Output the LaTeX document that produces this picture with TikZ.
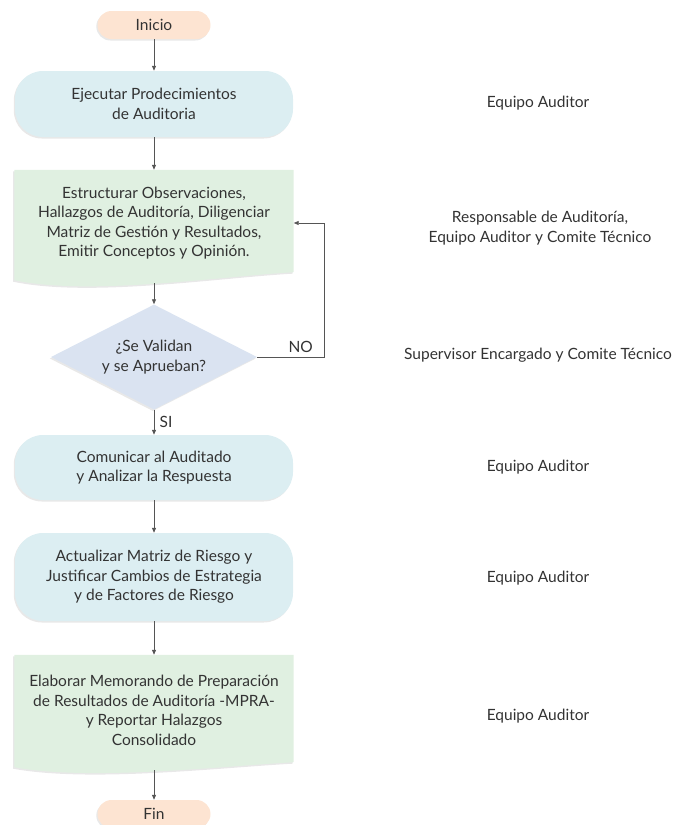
\documentclass[tikz,border=0pt]{standalone}
\usepackage{fontspec}
\setmainfont{Lato}
\usetikzlibrary{shapes.geometric,arrows.meta,shadows,backgrounds}
\definecolor{textogris}{HTML}{333333}
\definecolor{linea}{HTML}{555555}
\definecolor{durazno}{HTML}{FDE4D2}
\definecolor{celeste}{HTML}{DCEEF2}
\definecolor{verdoso}{HTML}{E0F0E1}
\definecolor{lila}{HTML}{DAE3F1}

\begin{document}
\begin{tikzpicture}[x=1pt,y=-1pt,
    every node/.style={font=\fontsize{15.5}{19.5}\selectfont,text=textogris,align=center},
    sombra/.style={drop shadow={opacity=0.18,shadow xshift=-1.2pt,shadow yshift=-1.5pt}},
    terminal/.style={rectangle,rounded corners=14pt,fill=durazno,minimum width=113pt,minimum height=28pt,sombra},
    proceso/.style={rectangle,rounded corners=28pt,fill=celeste,minimum width=278pt,sombra},
    documento/.style={rectangle,minimum width=279pt,inner sep=0pt},
    decision/.style={diamond,aspect=2,fill=lila,minimum width=206pt,minimum height=105pt,inner sep=0pt,sombra},
    rol/.style={},
    flecha/.style={draw=linea,line width=0.8pt,-{Triangle[length=5pt,width=4pt]}}]
    \useasboundingbox (0,0) rectangle (678,825);
    \node[terminal] (inicio) at (154,25) {Inicio};
    \node[proceso,minimum height=66pt] (ejecutar) at (154,104) {Ejecutar Prodecimientos\\de Auditoria};
    \node[documento,minimum height=106pt] (estructurar) at (154,223) {Estructurar Observaciones,\\Hallazgos de Auditoría, Diligenciar\\Matriz de Gestión y Resultados,\\Emitir Conceptos y Opinión.};
    \node[decision] (valida) at (154,357) {¿Se Validan\\y se Aprueban?};
    \node[proceso,minimum height=65pt] (comunicar) at (154,467.5) {Comunicar al Auditado\\y Analizar la Respuesta};
    \node[proceso,minimum height=88pt] (actualizar) at (154,577) {Actualizar Matriz de Riesgo y\\Justificar Cambios de Estrategia\\y de Factores de Riesgo};
    \node[documento,minimum height=111pt] (elaborar) at (154,710.5) {Elaborar Memorando de Preparación\\de Resultados de Auditoría -MPRA-\\y Reportar Halazgos\\Consolidado};
    \node[terminal] (fin) at (154,814) {Fin};
    \begin{scope}[on background layer]
    \fill[verdoso,sombra] (estructurar.north west) -- (estructurar.north east) -- ([yshift=4pt]estructurar.south east) .. controls +(-73,4) and +(76,16) .. ([yshift=-4pt]estructurar.south west) -- cycle;
    \fill[verdoso,sombra] (elaborar.north west) -- (elaborar.north east) -- ([yshift=4pt]elaborar.south east) .. controls +(-73,4) and +(76,14) .. ([yshift=-1pt]elaborar.south west) -- cycle;
    \end{scope}
    \node[rol] (rol1) at (538,103) {Equipo Auditor};
    \node[rol] (rol2) at (540,228) {Responsable de Auditoría,\\Equipo Auditor y Comite Técnico};
    \node[rol] (rol3) at (538,355) {Supervisor Encargado y Comite Técnico};
    \node[rol] (rol4) at (538,467) {Equipo Auditor};
    \node[rol] (rol5) at (538,578) {Equipo Auditor};
    \node[rol] (rol6) at (538,716) {Equipo Auditor};
    \draw[flecha] (inicio) -- (ejecutar);
    \draw[flecha] (ejecutar) -- (estructurar);
    \draw[flecha] ([yshift=-7pt]estructurar.south) -- (valida);
    \draw[flecha] (valida.east) -- node[above,pos=0.65,yshift=1pt] {NO} ++(67,0) |- (estructurar.east);
    \draw[flecha] (valida.south) -- node[right,xshift=2pt] {SI} (comunicar.north);
    \draw[flecha] (comunicar) -- (actualizar);
    \draw[flecha] (actualizar) -- (elaborar);
    \draw[flecha] ([yshift=-4pt]elaborar.south) -- (fin);
\end{tikzpicture}
\end{document}
